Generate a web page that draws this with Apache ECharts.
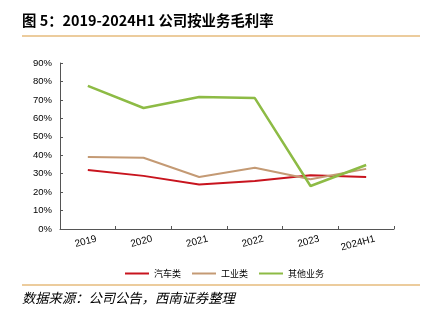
<!DOCTYPE html>
<html><head><meta charset="utf-8">
<script src="https://cdn.jsdelivr.net/npm/echarts@6/dist/echarts.min.js"></script>
<style>html,body{margin:0;padding:0;background:#fff;}#c{width:422px;height:325px;}</style>
</head><body><div id="c"></div>
<script>
const categories = ['2019','2020','2021','2022','2023','2024H1'];
const seriesNames = ['汽车类','工业类','其他业务'];
const autoVals = [32.0, 28.8, 24.1, 26.0, 29.2, 28.2];
const industrialVals = [39.0, 38.6, 28.2, 33.2, 27.0, 32.6];
const otherVals = [77.6, 65.6, 71.6, 71.0, 23.3, 34.7];
const yTicks = [0, 90, 10];
const colors = ['#C8141E', '#C49A74', '#8DBB45'];

const chart = echarts.init(document.getElementById('c'));
const cjk = '"Noto Sans CJK SC", sans-serif';
chart.setOption({
  animation: false,
  graphic: [
    {type:'text', left:22, top:13, style:{text:'图 5：2019-2024H1 公司按业务毛利率', font:'bold 14.4px "Noto Sans CJK SC", "Liberation Sans", sans-serif', fill:'#000'}},
    {type:'line', shape:{x1:22,y1:36,x2:420,y2:36}, style:{stroke:'#D99A3C', lineWidth:1.2}},
    {type:'line', shape:{x1:22,y1:285,x2:420,y2:285}, style:{stroke:'#D99A3C', lineWidth:1.2}},
    {type:'text', left:22, top:291, style:{text:'数据来源：公司公告，西南证券整理', font:'italic 13.3px "Noto Sans CJK SC", sans-serif', fill:'#000'}}
  ],
  grid: {left:60, right:28, top:63, bottom:96, containLabel:false},
  legend: {
    data: seriesNames, left: 120, top: 264, itemWidth: 24, itemHeight: 2, itemGap: 11,
    icon: 'rect',
    textStyle: {fontSize: 9, fontFamily: cjk, color:'#000'}
  },
  xAxis: {
    type:'category', data: categories, boundaryGap: true,
    axisLine:{lineStyle:{color:'#555', width:1}},
    axisTick:{show:true, inside:true, alignWithLabel:false, length:3, lineStyle:{color:'#555'}},
    axisLabel:{rotate:15, fontSize:10, color:'#000', fontFamily:'"Liberation Sans", Arial, sans-serif', margin:12, interval:0, padding:[0,-9,0,0]}
  },
  yAxis: {
    type:'value', min: yTicks[0], max: yTicks[1], interval: yTicks[2],
    splitLine:{show:false},
    axisLine:{show:true, lineStyle:{color:'#555'}},
    axisTick:{show:true, length:3, inside:true, lineStyle:{color:'#555'}},
    axisLabel:{formatter:'{value}%', fontSize:9.5, color:'#000', fontFamily:'"Liberation Sans", Arial, sans-serif', margin:8}
  },
  series: [
    {name:seriesNames[0], type:'line', data:autoVals, symbol:'none', lineStyle:{color:colors[0], width:2}, itemStyle:{color:colors[0]}},
    {name:seriesNames[1], type:'line', data:industrialVals, symbol:'none', lineStyle:{color:colors[1], width:2}, itemStyle:{color:colors[1]}},
    {name:seriesNames[2], type:'line', data:otherVals, symbol:'none', lineStyle:{color:colors[2], width:2.5}, itemStyle:{color:colors[2]}}
  ]
});
</script></body></html>
